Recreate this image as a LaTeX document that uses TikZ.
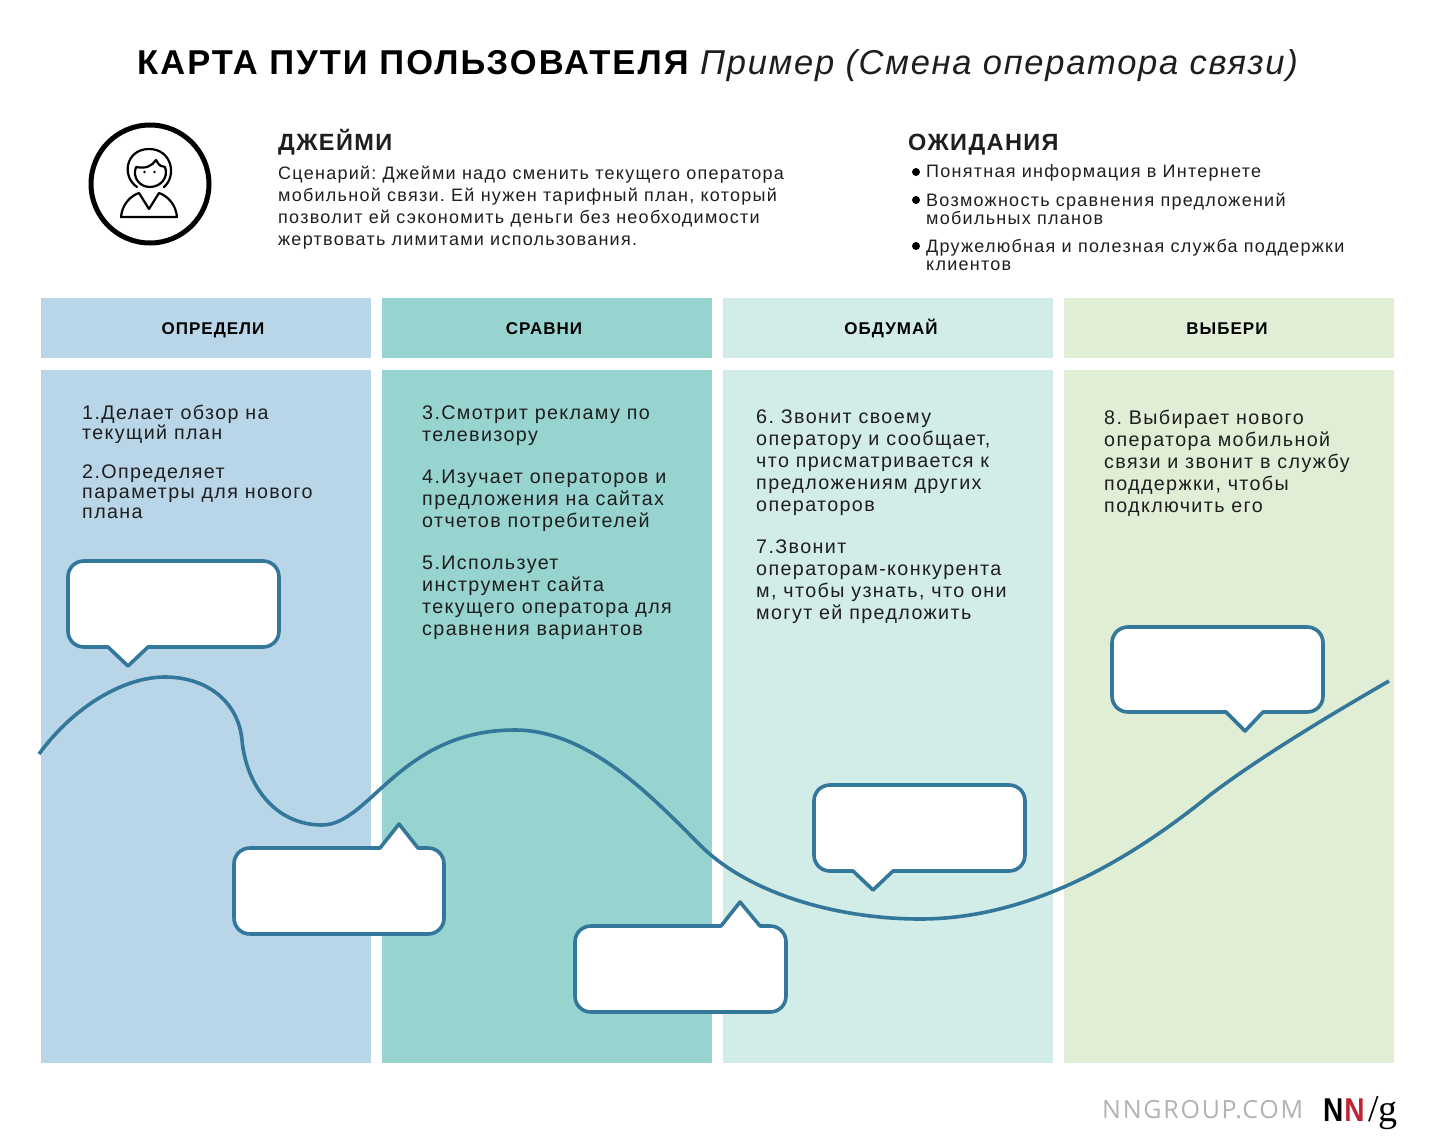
\documentclass[tikz,border=0pt]{standalone}
\usepackage{fontspec}
\usepackage{graphicx}
\setmainfont{Open Sans}
\newfontfamily\bodyf[LetterSpace=7]{Liberation Sans}
\newfontfamily\headf[LetterSpace=6]{Liberation Sans}
\newfontfamily\titlef[LetterSpace=5]{Liberation Sans}
\newfontfamily\sitef[LetterSpace=7]{Open Sans}
\newfontfamily\logof{Liberation Serif}
\newfontfamily\logos{Liberation Sans}
\definecolor{cblue}{HTML}{B9D6E9}
\definecolor{cteal}{HTML}{97D3CF}
\definecolor{cmint}{HTML}{D2ECE8}
\definecolor{cgreen}{HTML}{E1EED6}
\definecolor{cline}{HTML}{33779B}
\definecolor{ctext}{HTML}{1E1E1E}
\tikzset{
  bubble/.style={draw=cline,fill=white,line width=3.6pt,line join=round},
  curveline/.style={draw=cline,line width=3.6pt},
  body/.style={anchor=north west,inner sep=0pt,align=left,text=ctext,font=\bodyf\fontsize{19.7}{22}\selectfont},
  bodytight/.style={anchor=north west,inner sep=0pt,align=left,text=ctext,font=\bodyf\fontsize{19.7}{20}\selectfont},
  small/.style={anchor=north west,inner sep=0pt,align=left,text=ctext,font=\bodyf\fontsize{18}{22}\selectfont},
  tight/.style={anchor=north west,inner sep=0pt,align=left,text=ctext,font=\bodyf\fontsize{18}{18}\selectfont},
  lanehead/.style={anchor=base,inner sep=0pt,text=black,font=\headf\bfseries\fontsize{17}{20}\selectfont},
  sechead/.style={anchor=base west,inner sep=0pt,text=ctext,font=\headf\bfseries\fontsize{23.5}{26}\selectfont},
  dotm/.style={circle,fill=black,inner sep=0pt,minimum size=8pt},
}
% speech bubble: x1 y1 x2 y2 tail-left tail-tip-x tail-right tail-tip-y
\newcommand{\bubbody}[4]{({#3-16},#2) .. controls ({#3-7},#2) and (#3,{#2+7}) .. (#3,{#2+16}) -- (#3,{#4-16}) .. controls (#3,{#4-7}) and ({#3-7},#4) .. ({#3-16},#4)}
\newcommand{\bubdown}[8]{\path[bubble] ({#1+16},#2) -- \bubbody{#1}{#2}{#3}{#4} -- (#7,#4) -- (#6,#8) -- (#5,#4) -- ({#1+16},#4) .. controls ({#1+7},#4) and (#1,{#4-7}) .. (#1,{#4-16}) -- (#1,{#2+16}) .. controls (#1,{#2+7}) and ({#1+7},#2) .. ({#1+16},#2) -- cycle;}
\newcommand{\bubup}[8]{\path[bubble] ({#1+16},#2) -- (#5,#2) -- (#6,#8) -- (#7,#2) -- \bubbody{#1}{#2}{#3}{#4} -- ({#1+16},#4) .. controls ({#1+7},#4) and (#1,{#4-7}) .. (#1,{#4-16}) -- (#1,{#2+16}) .. controls (#1,{#2+7}) and ({#1+7},#2) .. ({#1+16},#2) -- cycle;}
\begin{document}
\frenchspacing
\begin{tikzpicture}[x=1pt,y=-1pt]
\useasboundingbox (0,0) rectangle (1438,1146);
% title
\node[inner sep=0pt,anchor=base west,text=black] (title) at (137,74) {{\headf\bfseries\fontsize{34.5}{40}\selectfont КАРТА ПУТИ ПОЛЬЗОВАТЕЛЯ}};
\node[inner sep=0pt,anchor=base west,text=ctext] (titleb) at (700,74) {{\titlef\itshape\fontsize{34.5}{40}\selectfont Пример (Смена оператора связи)}};
% persona icon
\node[circle,draw=black,line width=5pt,minimum size=118pt,inner sep=0pt] (avatar) at (150,184) {};
\draw[black,line width=2.2pt,line cap=round] (137,187) .. controls (121,176) and (126,149) .. (149,149) .. controls (172,149) and (177,176) .. (164,187);
\draw[black,line width=2.2pt,line join=round] (136,167) .. controls (146,169) and (152,166) .. (156,160) .. controls (159,166) and (162,167) .. (165,167) .. controls (169,178) and (160,187) .. (150,187) .. controls (140,187) and (132,178) .. (136,167) -- cycle;
\fill[black] (144.5,172) circle (1.3pt) (154.5,172) circle (1.3pt);
\draw[black,line width=2.2pt,line join=round] (121,217) .. controls (122,205) and (130,196) .. (139,193) -- (149,209) -- (159,193) .. controls (168,196) and (176,205) .. (177,217) -- cycle;
% persona
\node[sechead] (name) at (278,150) {ДЖЕЙМИ};
\node[small] (scen) at (278,166) {Сценарий: Джейми надо сменить текущего оператора\\мобильной связи. Ей нужен тарифный план, который\\позволит ей сэкономить деньги без необходимости\\жертвовать лимитами использования.};
% expectations
\node[sechead] (exph) at (908,150) {ОЖИДАНИЯ};
\node[dotm] (d1) at (916,172) {};
\node[small] (e1) at (926,164.5) {Понятная информация в Интернете};
\node[dotm] (d2) at (916,200) {};
\node[tight] (e2) at (926,193) {Возможность сравнения предложений\\мобильных планов};
\node[dotm] (d3) at (916,246) {};
\node[tight] (e3) at (926,239) {Дружелюбная и полезная служба поддержки\\клиентов};
% lane headers
\fill[cblue]  (41,298) rectangle (371,358);
\fill[cteal]  (382,298) rectangle (712,358);
\fill[cmint]  (723,298) rectangle (1053,358);
\fill[cgreen] (1064,298) rectangle (1394,358);
\node[lanehead] (h1) at (213,334) {ОПРЕДЕЛИ};
\node[lanehead] (h2) at (544,334) {СРАВНИ};
\node[lanehead] (h3) at (891,334) {ОБДУМАЙ};
\node[lanehead] (h4) at (1227,334) {ВЫБЕРИ};
% lanes
\fill[cblue]  (41,370) rectangle (371,1063);
\fill[cteal]  (382,370) rectangle (712,1063);
\fill[cmint]  (723,370) rectangle (1053,1063);
\fill[cgreen] (1064,370) rectangle (1394,1063);
% lane text
\node[bodytight] (t1) at (82,405) {1.Делает обзор на\\текущий план};
\node[bodytight] (t2) at (82,465) {2.Определяет\\параметры для нового\\плана};
\node[body] (t3) at (422,406) {3.Смотрит рекламу по\\телевизору};
\node[body] (t4) at (422,470) {4.Изучает операторов и\\предложения на сайтах\\отчетов потребителей};
\node[body] (t5) at (422,556) {5.Использует\\инструмент сайта\\текущего оператора для\\сравнения вариантов};
\node[body] (t6) at (756,410) {6. Звонит своему\\оператору и сообщает,\\что присматривается к\\предложениям других\\операторов};
\node[body] (t7) at (756,540) {7.Звонит\\операторам-конкурента\\м, чтобы узнать, что они\\могут ей предложить};
\node[body] (t8) at (1104,410) {8. Выбирает нового\\оператора мобильной\\связи и звонит в службу\\поддержки, чтобы\\подключить его};
% journey curve
\draw[curveline] (39,754) .. controls (75,705) and (125,677) .. (165,677)
  .. controls (205,677) and (238,700) .. (242,740)
  .. controls (246,785) and (275,825) .. (322,825)
  .. controls (370,825) and (400,730) .. (515,730)
  .. controls (590,730) and (655,800) .. (700,845)
  .. controls (750,895) and (840,919) .. (920,919)
  .. controls (1030,919) and (1130,860) .. (1210,795)
  .. controls (1260,757) and (1330,715) .. (1389,681);
% speech bubbles
\bubdown{68}{561}{279}{647}{108}{128}{148}{666}
\bubup{234}{848}{444}{934}{380}{399}{418}{824}
\bubup{575}{926}{786}{1012}{721}{740}{760}{902}
\bubdown{814}{785}{1025}{871}{853}{873}{893}{890}
\bubdown{1112}{627}{1323}{712}{1226}{1245}{1263}{731}
% footer
\node[inner sep=0pt,anchor=base west,text=black!30,font=\sitef\fontsize{25}{28}\selectfont] (site) at (1102,1118) {NNGROUP.COM};
\node[inner sep=0pt,anchor=base west] (logo) at (1323,1121) {{\logos\bfseries\fontsize{33}{36}\selectfont\scalebox{.85}[1]{N}\hspace{1pt}\textcolor[HTML]{BE2431}{\scalebox{.85}[1]{N}}}};
\node[inner sep=0pt,anchor=base west,font=\logof\fontsize{38}{40}\selectfont] (logog) at (1368,1121) {/g};
\end{tikzpicture}
\end{document}
